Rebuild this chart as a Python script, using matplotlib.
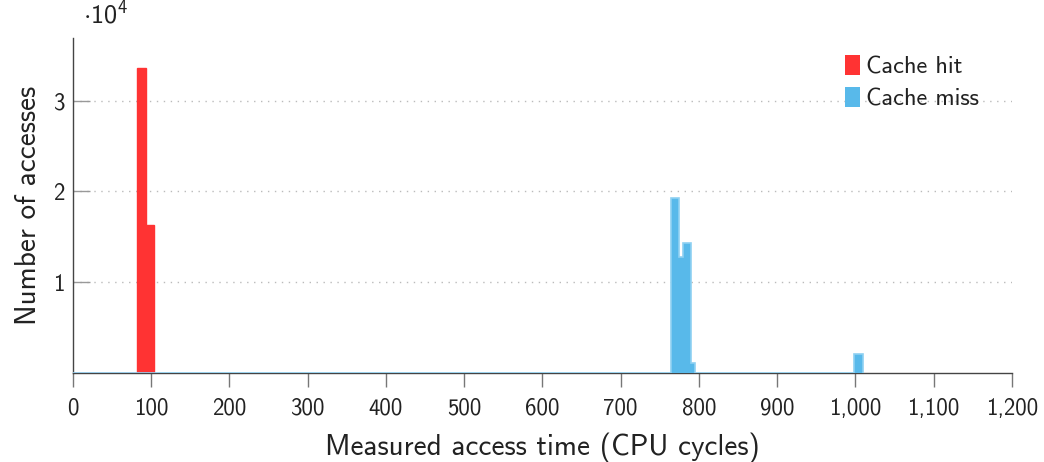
import matplotlib
matplotlib.use("Agg")
import matplotlib.pyplot as plt
from matplotlib.patches import Patch
from matplotlib.ticker import FuncFormatter, MultipleLocator

plt.rcParams['font.family'] = ['cmss10', 'DejaVu Sans']
plt.rcParams['mathtext.fontset'] = 'custom'
plt.rcParams['mathtext.rm'] = 'cmss10'
plt.rcParams['mathtext.it'] = 'cmss10'
plt.rcParams['axes.formatter.use_mathtext'] = True

# Histogram data (bin edges in CPU cycles, counts)
hit_edges = [0, 82, 93, 103]
hit_counts = [0, 33600, 16300]
miss_edges = [0, 764, 775, 779, 790, 795, 998.5, 1009.5]
miss_counts = [0, 19300, 12750, 14300, 1100, 0, 2000]

series_labels = ["Cache hit", "Cache miss"]
x_label = "Measured access time (CPU cycles)"
y_label = "Number of accesses"

red = '#FF3333'
blue = '#58B9EA'
blue_edge = '#8FD1F2'

fig = plt.figure(figsize=(10.44, 4.62), dpi=100)
ax = fig.add_axes([0.0699, 0.1935, 0.8994, 0.7235])

ax.stairs(hit_counts, hit_edges, fill=True, facecolor=red, edgecolor=red, linewidth=1, zorder=3)
ax.stairs(miss_counts, miss_edges, fill=True, facecolor=blue, edgecolor=blue_edge, linewidth=1.2, zorder=4)

ax.set_xlim(0, 1200)
ax.set_ylim(0, 36900)
ax.xaxis.set_major_locator(MultipleLocator(100))
ax.xaxis.set_major_formatter(FuncFormatter(lambda v, p: f"{int(v):,}"))
ax.set_yticks([10000, 20000, 30000])
ax.yaxis.set_major_formatter(FuncFormatter(lambda v, p: f"{int(v/10000)}"))

for s in ['top', 'right']:
    ax.spines[s].set_visible(False)
for s in ['left', 'bottom']:
    ax.spines[s].set_color('#444444')
    ax.spines[s].set_linewidth(1.0)

ax.tick_params(axis='x', direction='out', length=10, width=1, color='#777777',
               labelsize=16.5, pad=8, labelcolor='#222222')
ax.tick_params(axis='y', direction='in', length=12, width=1, color='#999999',
               labelsize=16.5, pad=6, labelcolor='#222222')

ax.grid(axis='y', linestyle=(0, (1, 4)), color='#bbbbbb', linewidth=1)
ax.set_axisbelow(True)

ax.set_xlabel(x_label, fontsize=21, color='#222222', labelpad=9)
ax.set_ylabel(y_label, fontsize=21, color='#222222', labelpad=8)

ax.text(0.011, 1.03, r'$\cdot10^4$', transform=ax.transAxes, fontsize=19,
        color='#222222', ha='left', va='bottom')

handles = [Patch(facecolor=red, edgecolor='none'), Patch(facecolor=blue, edgecolor='none')]
ax.legend(handles, series_labels, loc='upper right', bbox_to_anchor=(0.988, 1.015),
          frameon=False, fontsize=17.5, handlelength=0.6, handleheight=0.9,
          handletextpad=0.25, labelspacing=0.35, labelcolor='#222222')

fig.savefig('out.png', dpi=100)
